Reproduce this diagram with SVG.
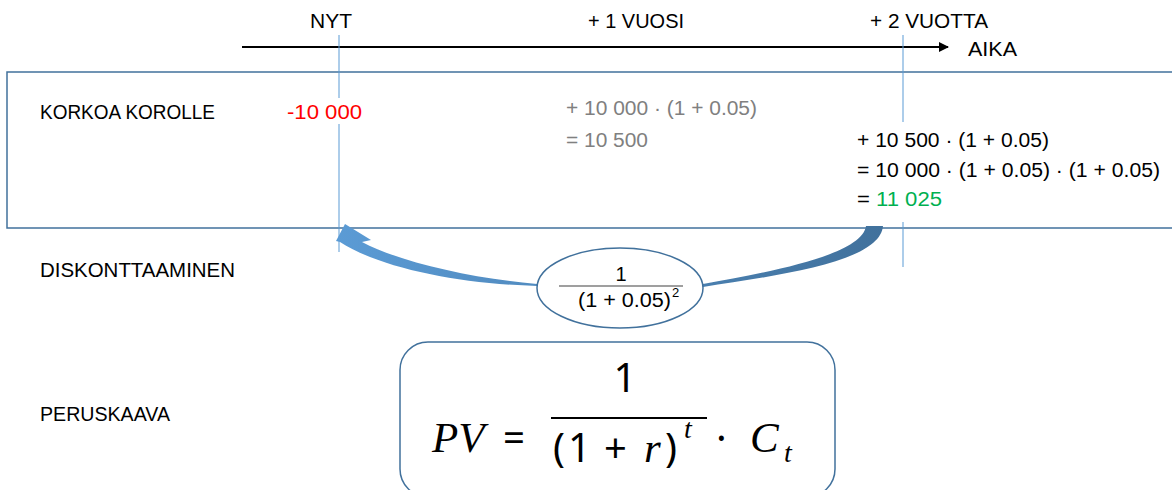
<svg xmlns="http://www.w3.org/2000/svg" width="1172" height="490" viewBox="0 0 1172 490">
  <style>
    .t { font-family: "Liberation Sans", Arial, sans-serif; font-size: 20px; fill: #000; }
    .g { fill: #808080; }
    .red { fill: #FF0000; }
    .grn { fill: #00B050; }
    .m { font-family: "Liberation Serif", "DejaVu Serif", serif; font-size: 43px; fill: #000; }
    .mu { font-family: "Noto Sans", "Liberation Sans", sans-serif; font-size: 40px; fill: #000; }
    .mi { font-style: italic; }
    .vl { stroke: #5B9BD5; stroke-width: 1; fill: none; }
    .box { fill: none; stroke: #41719C; stroke-width: 1.5; }
  </style>
  <defs>
    <marker id="ah" viewBox="0 0 10 10" refX="9" refY="5" markerWidth="5" markerHeight="5" orient="auto" markerUnits="strokeWidth">
      <path d="M0,0 L10,5 L0,10 Z" fill="#000"/>
    </marker>
    <linearGradient id="rib" x1="336" y1="0" x2="883" y2="0" gradientUnits="userSpaceOnUse">
      <stop offset="0" stop-color="#5B9BD5"/>
      <stop offset="1" stop-color="#41719C"/>
    </linearGradient>
  </defs>

  <rect width="1172" height="490" fill="#fff"/>

  <g id="timeline">
    <line x1="242" y1="47" x2="948" y2="47" stroke="#000" stroke-width="2" marker-end="url(#ah)"/>
    <text class="t" x="310" y="28" textLength="42" lengthAdjust="spacingAndGlyphs">NYT</text>
    <text class="t" x="588" y="28" textLength="96" lengthAdjust="spacingAndGlyphs">+ 1 VUOSI</text>
    <text class="t" x="870" y="28" textLength="118" lengthAdjust="spacingAndGlyphs">+ 2 VUOTTA</text>
    <text class="t" x="968" y="56" textLength="49" lengthAdjust="spacingAndGlyphs">AIKA</text>
  </g>

  <g id="korkoa-box">
    <rect class="box" x="7" y="72" width="1180" height="156"/>
    <text class="t" x="40" y="119" textLength="175" lengthAdjust="spacingAndGlyphs">KORKOA KOROLLE</text>
    <text class="t red" x="287" y="119" textLength="75" lengthAdjust="spacingAndGlyphs">-10 000</text>
    <text class="t g" x="566" y="115" textLength="191" lengthAdjust="spacingAndGlyphs">+ 10 000 · (1 + 0.05)</text>
    <text class="t g" x="566" y="147" textLength="82" lengthAdjust="spacingAndGlyphs">= 10 500</text>
    <text class="t" x="857" y="147" textLength="192" lengthAdjust="spacingAndGlyphs">+ 10 500 · (1 + 0.05)</text>
    <text class="t" x="857" y="177" textLength="303" lengthAdjust="spacingAndGlyphs">= 10 000 · (1 + 0.05) · (1 + 0.05)</text>
    <text class="t" x="857" y="206" textLength="85" lengthAdjust="spacingAndGlyphs">= <tspan class="grn">11 025</tspan></text>
  </g>

  <g id="guides">
    <line class="vl" x1="339" y1="35" x2="339" y2="98"/>
    <line class="vl" x1="339" y1="124" x2="339" y2="252"/>
    <line class="vl" x1="903" y1="35" x2="903" y2="122"/>
    <line class="vl" x1="903" y1="222" x2="903" y2="267"/>
  </g>

  <g id="connectors">
    <path d="M883,226 C880,262 780,275 703,287 L703,284 C770,272 862,255 866,226 Z" fill="url(#rib)"/>
    <path d="M345,224 L371,240 L362,242 C400,262 470,278 537,284 L537,286 C460,284 380,268 340,242 L336,241 Z" fill="url(#rib)"/>
  </g>

  <g id="discount-factor">
    <ellipse cx="620" cy="288" rx="83" ry="40" fill="#fff" stroke="#41719C" stroke-width="1.5"/>
    <text class="t" x="621" y="281" text-anchor="middle">1</text>
    <line x1="559" y1="286" x2="683" y2="286" stroke="#404040" stroke-width="1.2"/>
    <text class="t" x="578" y="307" textLength="93" lengthAdjust="spacingAndGlyphs">(1 + 0.05)</text>
    <text class="t" x="672" y="297" style="font-size:13px">2</text>
  </g>

  <g id="labels">
    <text class="t" x="40" y="277" textLength="195" lengthAdjust="spacingAndGlyphs">DISKONTTAAMINEN</text>
    <text class="t" x="40" y="421" textLength="130" lengthAdjust="spacingAndGlyphs">PERUSKAAVA</text>
  </g>

  <g id="formula">
    <rect class="box" x="400" y="342" width="435" height="155" rx="28"/>
    <text class="m mi" x="432" y="452">PV</text>
    <text class="mu" x="503" y="452" textLength="22" lengthAdjust="spacingAndGlyphs">=</text>
    <text class="mu" x="625" y="392" text-anchor="middle">1</text>
    <line x1="551" y1="418" x2="707" y2="418" stroke="#000" stroke-width="2"/>
    <text class="mu" x="553" y="462">(</text>
    <text class="mu" x="568" y="462">1</text>
    <text class="mu" x="604" y="462">+</text>
    <text class="m mi" x="644" y="462">r</text>
    <text class="mu" x="665" y="462">)</text>
    <text class="m mi" x="684" y="438" style="font-size:28px">t</text>
    <text class="mu" x="716" y="452">·</text>
    <text class="m mi" x="750" y="452">C</text>
    <text class="m mi" x="784" y="462" style="font-size:28px">t</text>
  </g>
</svg>
